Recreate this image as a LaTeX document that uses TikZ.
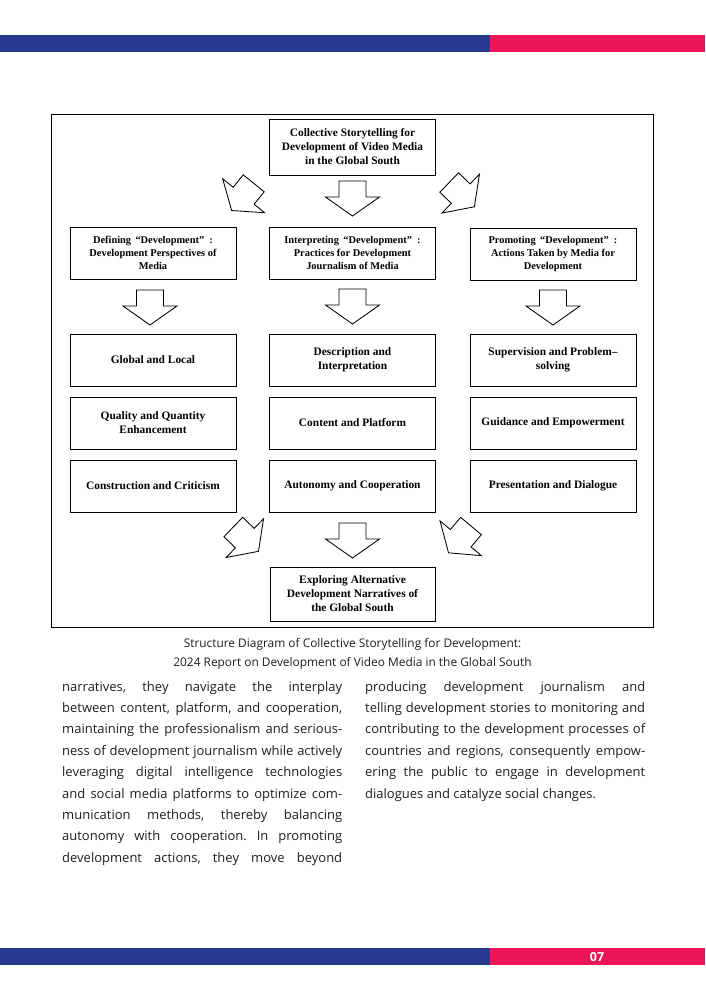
\documentclass[tikz,border=0pt]{standalone}
\usepackage{fontspec}
\setmainfont{Liberation Serif}
\newfontfamily\bodyfont{Open Sans}
\frenchspacing
\definecolor{barblue}{RGB}{38,57,143}
\definecolor{barpink}{RGB}{238,20,88}
\definecolor{bodygray}{RGB}{30,30,30}
\tikzset{
  boxA/.style={draw=black, line width=0.8pt, fill=white, minimum width=166pt, minimum height=52pt, inner sep=1pt, align=center, font=\fontsize{11.4}{14}\selectfont\bfseries},
  boxB/.style={boxA, font=\fontsize{10.4}{13}\selectfont\bfseries},
  bodyline/.style={anchor=base west, inner sep=0pt, text=bodygray, font=\bodyfont\fontsize{13}{21}\selectfont},
  captext/.style={anchor=base, inner sep=0pt, text=bodygray, font=\bodyfont\fontsize{11.9}{19}\selectfont},
  barrow/.pic={\draw[line width=0.85pt, fill=white, line join=miter] (-13.5,0) -- (13.5,0) -- (13.5,16) -- (27,16) -- (0,35) -- (-27,16) -- (-13.5,16) -- cycle;}
}
\begin{document}
\begin{tikzpicture}[x=1pt, y=-1pt]
\useasboundingbox (0,0) rectangle (705,989);
% top and bottom bars
\fill[barblue] (0,35) rectangle (490,52);
\fill[barpink] (490,35) rectangle (705,52);
\fill[barblue] (0,948) rectangle (490,965);
\fill[barpink] (490,948) rectangle (705,965);
\node[text=white, font=\bodyfont\bfseries\fontsize{12.5}{14}\selectfont, inner sep=0pt] (pg) at (597,957) {07};
% frame
\draw[line width=0.8pt] (51,114) rectangle (653,627);
% boxes
\node[boxA, minimum height=56pt] (top) at (352.5,147) {Collective Storytelling for\\Development of Video Media\\in the Global South};
\node[boxB] (d1) at (153,253) {Defining \,“Development”\enspace:\\Development Perspectives of\\Media};
\node[boxB] (d2) at (352.5,253) {Interpreting \,“Development”\enspace:\\Practices for Development\\Journalism of Media};
\node[boxB] (d3) at (553,254) {Promoting \,“Development”\enspace:\\Actions Taken by Media for\\Development};
\node[boxA] (a1) at (153,360) {Global and Local};
\node[boxA] (a2) at (352.5,360) {Description and\\Interpretation};
\node[boxA] (a3) at (553,360) {Supervision and Problem–\\solving};
\node[boxA] (b1) at (153,423) {Quality and Quantity\\Enhancement};
\node[boxA] (b2) at (352.5,423) {Content and Platform};
\node[boxA] (b3) at (553,423) {Guidance and Empowerment};
\node[boxA] (c1) at (153,486) {Construction and Criticism};
\node[boxA] (c2) at (352.5,486) {Autonomy and Cooperation};
\node[boxA] (c3) at (553,486) {Presentation and Dialogue};
\node[boxA, minimum width=165pt, minimum height=54pt] (bot) at (352.5,594) {Exploring Alternative\\Development Narratives of\\the Global South};
% block arrows
\pic (ar1) [rotate=-39] at (253.7,183.3) {barrow};
\pic (ar2) at (352.5,181) {barrow};
\pic (ar3) [rotate=46] at (449.2,182.5) {barrow};
\pic (ar4) at (150,290) {barrow};
\pic (ar5) at (352.5,289) {barrow};
\pic (ar6) at (553,290) {barrow};
\pic (ar7) [rotate=46] at (233.3,527) {barrow};
\pic (ar8) at (352.5,523) {barrow};
\pic (ar9) [rotate=-40] at (471,526) {barrow};
% caption
\node[captext] (cap1) at (352.5,647) {Structure Diagram of Collective Storytelling for Development:};
\node[captext] (cap2) at (352.5,666) {2024 Report on Development of Video Media in the Global South};
% body text, left column
\foreach \t [count=\i] in {
  {narratives, they navigate the interplay},
  {between content, platform, and cooperation,},
  {maintaining the professionalism and serious-},
  {ness of development journalism while actively},
  {leveraging digital intelligence technologies},
  {and social media platforms to optimize com-},
  {munication methods, thereby balancing},
  {autonomy with cooperation. In promoting},
  {development actions, they move beyond}}
  \node[bodyline] (L\i) at (62,{691+21.4*(\i-1)}) {\makebox[280pt][s]{\t}};
% body text, right column
\foreach \t [count=\i] in {
  {producing development journalism and},
  {telling development stories to monitoring and},
  {contributing to the development processes of},
  {countries and regions, consequently empow-},
  {ering the public to engage in development}}
  \node[bodyline] (R\i) at (365,{691+21.4*(\i-1)}) {\makebox[280pt][s]{\t}};
\node[bodyline] (R6) at (365,{691+21.4*5}) {dialogues and catalyze social changes.};
\end{tikzpicture}
\end{document}
